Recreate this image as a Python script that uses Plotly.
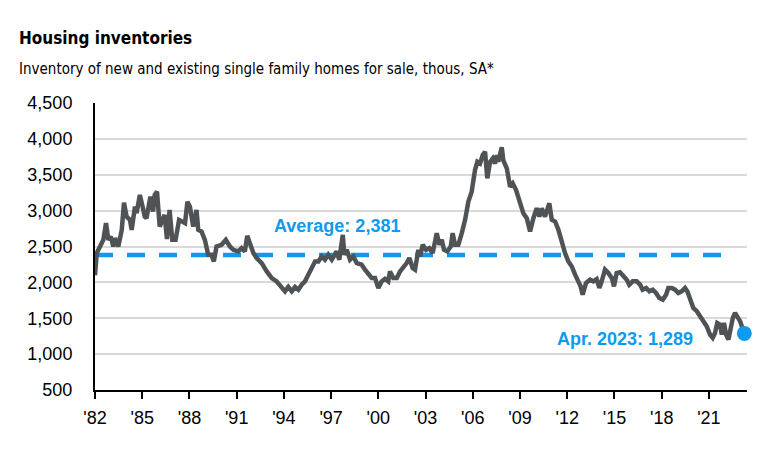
import plotly.graph_objects as go

# ---- data ----
years = [
    1982.00, 1982.11, 1982.32, 1982.53, 1982.70, 1982.85, 1983.00, 1983.16, 1983.27, 1983.48,
    1983.70, 1983.84, 1984.01, 1984.22, 1984.33, 1984.54, 1984.64, 1984.85, 1985.02, 1985.16,
    1985.27, 1985.52, 1985.69, 1985.79, 1985.94, 1986.11, 1986.28, 1986.42, 1986.57, 1986.74,
    1986.91, 1987.12, 1987.34, 1987.48, 1987.72, 1987.87, 1988.03, 1988.24, 1988.45, 1988.56,
    1988.77, 1988.98, 1989.19, 1989.40, 1989.55, 1989.72, 1990.04, 1990.31, 1990.57, 1990.79,
    1991.10, 1991.31, 1991.52, 1991.67, 1991.84, 1992.06, 1992.27, 1992.59, 1992.91, 1993.23,
    1993.54, 1993.86, 1994.07, 1994.28, 1994.50, 1994.71, 1994.92, 1995.13, 1995.34, 1995.55,
    1995.77, 1995.98, 1996.19, 1996.40, 1996.61, 1996.82, 1997.04, 1997.25, 1997.35, 1997.52,
    1997.74, 1997.84, 1997.99, 1998.20, 1998.41, 1998.63, 1998.94, 1999.15, 1999.36, 1999.58,
    1999.79, 2000.00, 2000.21, 2000.42, 2000.63, 2000.74, 2000.95, 2001.17, 2001.38, 2001.59,
    2001.80, 2001.97, 2002.18, 2002.33, 2002.54, 2002.65, 2002.82, 2003.03, 2003.24, 2003.45,
    2003.71, 2003.88, 2004.03, 2004.17, 2004.38, 2004.60, 2004.72, 2004.87, 2005.08, 2005.30,
    2005.51, 2005.72, 2005.93, 2006.14, 2006.29, 2006.46, 2006.63, 2006.78, 2006.92, 2007.10,
    2007.27, 2007.41, 2007.52, 2007.62, 2007.84, 2007.94, 2008.16, 2008.37, 2008.54, 2008.75,
    2009.00, 2009.21, 2009.43, 2009.64, 2009.85, 2010.06, 2010.23, 2010.38, 2010.59, 2010.74,
    2010.86, 2011.02, 2011.23, 2011.44, 2011.65, 2011.86, 2012.07, 2012.29, 2012.50, 2012.71,
    2012.85, 2012.98, 2013.19, 2013.45, 2013.66, 2013.87, 2014.04, 2014.19, 2014.40, 2014.61,
    2014.83, 2014.97, 2015.14, 2015.35, 2015.56, 2015.78, 2015.94, 2016.16, 2016.41, 2016.63,
    2016.79, 2017.01, 2017.22, 2017.43, 2017.64, 2017.85, 2018.07, 2018.28, 2018.42, 2018.64,
    2018.85, 2019.06, 2019.27, 2019.48, 2019.63, 2019.80, 2020.01, 2020.23, 2020.44, 2020.65,
    2020.86, 2021.07, 2021.24, 2021.39, 2021.53, 2021.71, 2021.82, 2021.96, 2022.09, 2022.24,
    2022.39, 2022.52, 2022.66, 2022.81, 2022.98, 2023.25,
]
inventory = [
    2100, 2408, 2500, 2593, 2825, 2593, 2639, 2500, 2616, 2500,
    2732, 3110, 2917, 2871, 2732, 3056, 2964, 3218, 3056, 2917,
    2894, 3194, 2986, 3218, 3264, 2778, 2871, 2940, 2603, 3010,
    2593, 2593, 2871, 2847, 2825, 3125, 3056, 2778, 3010, 2732,
    2708, 2593, 2385, 2385, 2292, 2500, 2524, 2593, 2500, 2454,
    2431, 2477, 2431, 2649, 2524, 2408, 2339, 2269, 2153, 2061,
    2014, 1936, 1875, 1936, 1875, 1936, 1898, 1968, 2014, 2107,
    2200, 2292, 2292, 2362, 2316, 2385, 2316, 2385, 2431, 2316,
    2662, 2385, 2454, 2316, 2362, 2269, 2246, 2177, 2107, 2061,
    2061, 1922, 2014, 2050, 2014, 2153, 2061, 2061, 2153, 2200,
    2269, 2339, 2200, 2177, 2454, 2361, 2524, 2454, 2477, 2408,
    2686, 2524, 2593, 2454, 2431, 2500, 2686, 2524, 2524, 2686,
    2871, 3125, 3264, 3565, 3680, 3657, 3774, 3820, 3450, 3680,
    3728, 3657, 3774, 3680, 3884, 3700, 3589, 3333, 3380, 3287,
    3102, 2964, 2894, 2708, 2894, 3033, 2917, 3033, 2917, 3056,
    3102, 2871, 2848, 2732, 2547, 2408, 2292, 2222, 2107, 1991,
    1944, 1829, 1991, 2037, 2014, 2045, 1922, 2014, 2177, 2130,
    2061, 1944, 2130, 2140, 2084, 2037, 1968, 2014, 2014, 1968,
    1898, 1922, 1875, 1898, 1852, 1783, 1760, 1829, 1922, 1922,
    1898, 1852, 1875, 1922, 1875, 1760, 1644, 1598, 1528, 1459,
    1389, 1273, 1227, 1296, 1435, 1412, 1273, 1435, 1273, 1204,
    1366, 1505, 1574, 1528, 1459, 1289,
]
average_value = 2381
average_end_year = 2022.2
last_label = "Apr. 2023: 1,289"
average_label = "Average: 2,381"

tick_years = [1982, 1985, 1988, 1991, 1994, 1997, 2000, 2003, 2006, 2009, 2012, 2015, 2018, 2021]
tick_text = ["'82", "'85", "'88", "'91", "'94", "'97", "'00", "'03", "'06", "'09", "'12", "'15", "'18", "'21"]
y_ticks = [500, 1000, 1500, 2000, 2500, 3000, 3500, 4000, 4500]
y_tick_text = ["500", "1,000", "1,500", "2,000", "2,500", "3,000", "3,500", "4,000", "4,500"]

title = "Housing inventories"
subtitle = "Inventory of new and existing single family homes for sale, thous, SA*"

GRAY = "#505356"
BLUE = "#0F9AF0"
NARROW = "DejaVu Sans Condensed, sans-serif"
ARIAL = "Liberation Sans, Arial, sans-serif"

fig = go.Figure()

fig.add_trace(go.Scatter(
    x=[years[0], average_end_year], y=[average_value, average_value],
    mode="lines", line=dict(color=BLUE, width=4.5, dash="18px,14px"),
    hoverinfo="skip", showlegend=False,
))
fig.add_trace(go.Scatter(
    x=years, y=inventory, mode="lines",
    line=dict(color=GRAY, width=4.5), showlegend=False,
))
fig.add_trace(go.Scatter(
    x=[years[-1]], y=[inventory[-1]], mode="markers",
    marker=dict(color=BLUE, size=15), showlegend=False, cliponaxis=False,
))

fig.add_annotation(x=1997.36, y=2790, xref="x", yref="y", text=f"<b>{average_label}</b>",
                   showarrow=False, font=dict(family=ARIAL, size=18, color=BLUE),
                   xanchor="center", yanchor="middle")
fig.add_annotation(x=2020.12, y=1204, xref="x", yref="y", text=f"<b>{last_label}</b>",
                   showarrow=False, font=dict(family=ARIAL, size=18, color=BLUE),
                   xanchor="right", yanchor="middle")

fig.add_annotation(x=-0.12, y=1.227, xref="paper", yref="paper", text=f"<b>{title}</b>",
                   showarrow=False, font=dict(family=NARROW, size=17, color="#000000"),
                   xanchor="left", yanchor="middle")
fig.add_annotation(x=-0.12, y=1.12, xref="paper", yref="paper", text=subtitle,
                   showarrow=False, font=dict(family=NARROW, size=15, color="#000000"),
                   xanchor="left", yanchor="middle")

# page body has an 8px default margin, so the figure is 8px smaller each way
fig.update_layout(
    width=760, height=441,
    margin=dict(l=87, r=21, t=95, b=59),
    paper_bgcolor="white", plot_bgcolor="white",
    showlegend=False,
)
fig.update_xaxes(
    range=[1982, 2023.42], tickvals=tick_years, ticktext=tick_text,
    showgrid=False, zeroline=False,
    showline=True, linecolor="#000000", linewidth=2,
    ticks="outside", ticklen=7, tickwidth=2, tickcolor="#000000",
    ticklabelstandoff=3,
    tickfont=dict(family=ARIAL, size=18, color="#000000"),
)
fig.update_yaxes(
    range=[500, 4500], tickvals=y_ticks, ticktext=y_tick_text,
    showgrid=True, gridcolor="#D9D9D9", gridwidth=1.5, zeroline=False,
    showline=True, linecolor="#000000", linewidth=2,
    ticks="", ticklabelstandoff=17,
    tickfont=dict(family=ARIAL, size=18, color="#000000"),
)

fig.write_html("out.html")
